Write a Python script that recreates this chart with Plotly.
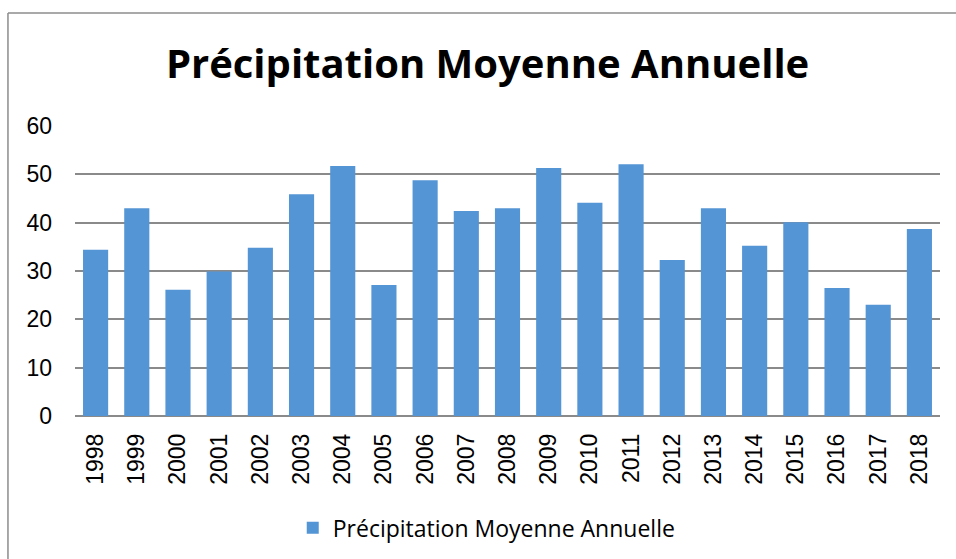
import plotly.graph_objects as go

years = ['1998', '1999', '2000', '2001', '2002', '2003', '2004', '2005', '2006', '2007',
         '2008', '2009', '2010', '2011', '2012', '2013', '2014', '2015', '2016', '2017', '2018']
precip = [34.4, 43.0, 26.1, 29.9, 34.8, 45.9, 51.7, 27.1, 48.8, 42.4,
          43.0, 51.3, 44.1, 52.1, 32.3, 43.0, 35.2, 40.1, 26.5, 23.0, 38.7]
series_name = 'Précipitation Moyenne Annuelle'

fig = go.Figure()

fig.add_trace(
    go.Bar(
        x=years,
        y=precip,
        name=series_name,
        marker=dict(color='#5495d5', line=dict(width=0)),
        showlegend=True
    )
)

# chart frame: only the top and left edges show in the original crop
frame = dict(color='#8c8c8c', width=1.5)
fig.add_shape(type='line', xref='paper', yref='paper',
              x0=-0.0775, x1=1.03, y0=1.3897, y1=1.3897, line=frame)
fig.add_shape(type='line', xref='paper', yref='paper',
              x0=-0.0775, x1=-0.0775, y0=-0.5, y1=1.3897, line=frame)

fig.update_layout(
    width=956,
    height=559,
    margin=dict(l=75, r=16, t=126, b=143),
    paper_bgcolor='white',
    plot_bgcolor='white',
    bargap=0.39,
    title=dict(
        text='<b>Précipitation Moyenne Annuelle</b>',
        x=0.51, xanchor='center',
        y=0.885, yref='container', yanchor='middle',
        font=dict(family='Open Sans', size=40, color='black')
    ),
    legend=dict(
        orientation='h',
        x=0.476, xanchor='center',
        y=0.056, yref='container', yanchor='middle',
        font=dict(family='Open Sans', size=23, color='black'),
        itemwidth=30
    ),
    xaxis=dict(
        tickangle=-90,
        tickfont=dict(family='Liberation Sans', size=23, color='black'),
        showgrid=False,
        showline=False,
        ticks='',
        ticklabelstandoff=12,
        automargin=False
    ),
    yaxis=dict(
        range=[0, 60],
        dtick=10,
        tickfont=dict(family='Liberation Sans', size=23, color='black'),
        showgrid=True,
        gridcolor='#8a8a8a',
        gridwidth=1.5,
        zeroline=True,
        zerolinecolor='#8a8a8a',
        zerolinewidth=1.5,
        ticklabelstandoff=22,
        automargin=False
    )
)

# drop the default body margin so the 956x559 figure fills the window exactly
fig.write_html(
    "out.html",
    config={'displayModeBar': False},
    post_script="document.body.style.margin='0';document.body.style.overflow='hidden';"
)
